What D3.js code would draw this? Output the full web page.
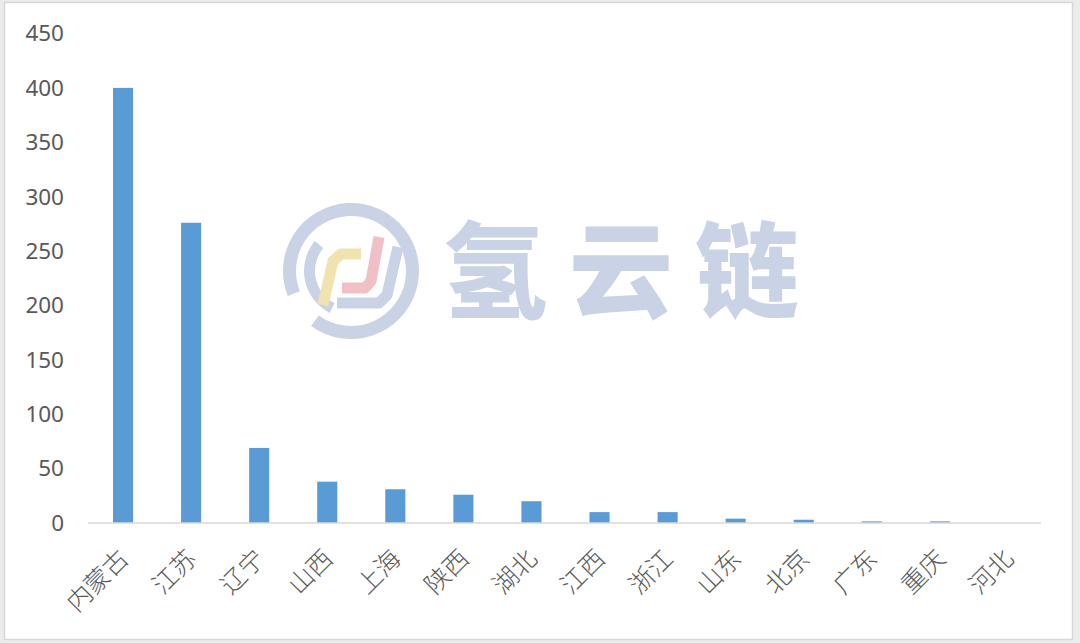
<!DOCTYPE html>
<html>
<head>
<meta charset="utf-8">
<script src="https://cdn.jsdelivr.net/npm/d3@7"></script>
<style>
  html, body { margin: 0; padding: 0; background: #ececec; }
  svg { display: block; }
</style>
</head>
<body>
<svg id="chart" width="1080" height="643"></svg>
<script>
const categories = ["内蒙古", "江苏", "辽宁", "山西", "上海", "陕西", "湖北", "江西", "浙江", "山东", "北京", "广东", "重庆", "河北"];
const values = [400, 276, 69, 38, 31, 26, 20, 10, 10, 4, 3, 1.5, 1.5, 0];
const yTicks = [0, 50, 100, 150, 200, 250, 300, 350, 400, 450];
const watermarkText = "氢云链";

const svg = d3.select("#chart");

// panel background + border
svg.append("rect").attr("x", 4.5).attr("y", 2.5).attr("width", 1068).attr("height", 637)
  .attr("fill", "#ffffff").attr("stroke", "#d6d6d6").attr("stroke-width", 1.5);

const x = d3.scaleBand().domain(categories).range([89, 1042]).paddingInner(0.705).paddingOuter(0.3525);
const y = d3.scaleLinear().domain([0, 450]).range([523, 33.5]);

// watermark
const wm = svg.append("g").attr("class", "watermark");
const wmColor = "#c9d3e5";
const cx = 351, cy = 271;
const arc = d3.arc();
wm.append("path").attr("transform", `translate(${cx},${cy})`)
  .attr("d", arc({innerRadius: 55, outerRadius: 68, startAngle: -0.62 * Math.PI, endAngle: Math.PI * 1.2}))
  .attr("fill", wmColor);
wm.append("path").attr("transform", `translate(${cx},${cy})`)
  .attr("d", arc({innerRadius: 36, outerRadius: 47, startAngle: Math.PI * 1.15, endAngle: Math.PI * 1.72}))
  .attr("fill", wmColor);
// inner stripes
const stripe = (pts, color) => wm.append("path").attr("d", d3.line()(pts)).attr("fill", "none")
  .attr("stroke", color).attr("stroke-width", 11).attr("stroke-linecap", "butt").attr("stroke-linejoin", "round");
stripe([[cx - 28, cy + 34], [cx - 18, cy - 10], [cx - 10, cy - 17], [cx + 10, cy - 17]], "#f1e3b0");
stripe([[cx - 9, cy + 17], [cx + 14, cy + 17], [cx + 20, cy + 10], [cx + 28, cy - 34]], "#f1bfc6");
stripe([[cx - 14, cy + 32], [cx + 28, cy + 32], [cx + 36, cy + 24], [cx + 47, cy - 24]], wmColor);
wm.append("text").attr("x", 443).attr("y", 310)
  .attr("font-family", "'Noto Sans CJK SC', sans-serif").attr("font-weight", 900)
  .attr("font-size", 104).attr("letter-spacing", 22).attr("fill", wmColor)
  .text(watermarkText);

// y tick labels
svg.append("g").selectAll("text").data(yTicks).join("text")
  .attr("x", 64).attr("y", d => y(d)).attr("dy", "0.35em")
  .attr("text-anchor", "end")
  .attr("font-family", "'Noto Sans', 'Liberation Sans', sans-serif")
  .attr("font-size", 22.5).attr("fill", "#595959")
  .text(d => d);

// bars
svg.append("g").selectAll("rect").data(categories).join("rect")
  .attr("x", d => x(d)).attr("width", x.bandwidth())
  .attr("y", (d, i) => y(values[i])).attr("height", (d, i) => y(0) - y(values[i]))
  .attr("fill", "#5b9bd5");

// x axis line
svg.append("line").attr("x1", 88).attr("x2", 1041).attr("y1", y(0)).attr("y2", y(0))
  .attr("stroke", "#d9d9d9").attr("stroke-width", 1.5);

// x labels
svg.append("g").selectAll("text").data(categories).join("text")
  .attr("transform", d => `translate(${x(d) + x.bandwidth() / 2 + 1},${y(0) + 31}) rotate(-45)`)
  .attr("text-anchor", "end").attr("dy", "0.35em")
  .attr("font-family", "'Noto Sans CJK SC', sans-serif").attr("font-weight", 300)
  .attr("font-size", 25).attr("fill", "#595959")
  .text(d => d);
</script>
</body>
</html>
